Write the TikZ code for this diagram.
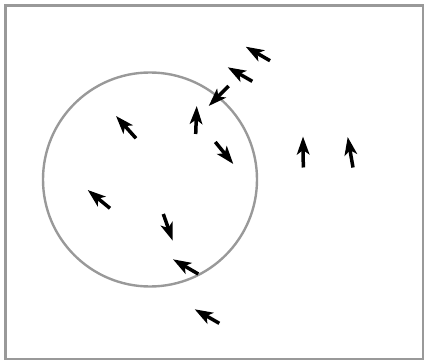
\documentclass[tikz,border=0pt]{standalone}
\usepackage{tikz}
\usetikzlibrary{arrows.meta}
\definecolor{rimgray}{gray}{0.6}
\tikzset{vec/.style={line width=3.5pt,-{Stealth[length=18pt,width=12.5pt,inset=4.5pt]}}}

\begin{document}
\begin{tikzpicture}[x=1pt,y=-1pt]
  \useasboundingbox (0,0) rectangle (425,363);
  % ---- frame and the disc
  \draw[rimgray,line width=2.8pt] (5.5,5.5) rectangle (423,359);
  \coordinate (C) at (150,179.5);
  \draw[rimgray,line width=2.4pt] (C) circle (107);
  % ---- the arrows: tail/head
  \foreach \tx/\ty/\hx/\hy in {270/60.7/245.7/46.7, 252.3/81.3/227.7/67.3,
      228.7/86/208.7/106, 195.7/134/196.7/106, 136/138.3/116/116,
      215.3/142/233.3/164, 303.3/167.5/303/136.5, 353/167.5/347.7/137,
      110/208.3/87.7/190, 163.3/214/172.7/240.7, 198.3/274/173/259.3,
      219.3/323.3/194.7/309.3}
    \draw[vec] (\tx,\ty) -- (\hx,\hy);
\end{tikzpicture}
\end{document}
